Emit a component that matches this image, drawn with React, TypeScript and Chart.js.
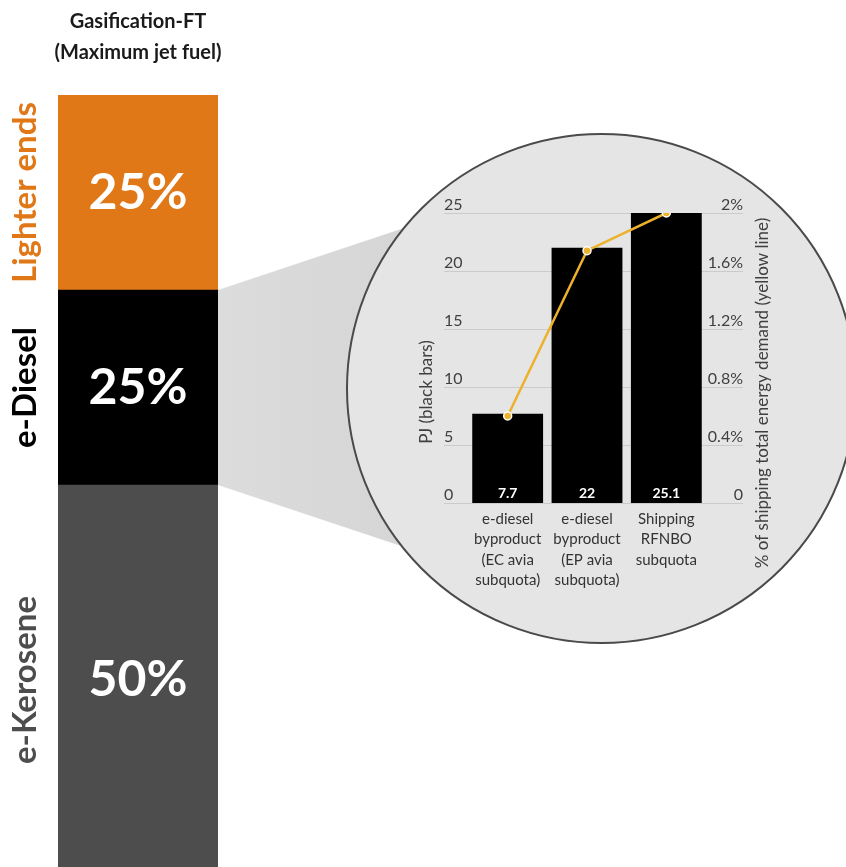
import React, { useEffect, useRef } from "react";
import { Chart, registerables } from "chart.js";

Chart.register(...registerables);

const FONT = "Lato, 'Open Sans', sans-serif";
const W = 846;
const H = 867;
const COLUMN_CANVAS_H = 900;

// Product split of the gasification-FT route (bottom to top)
const columnTitle = ["Gasification-FT", "(Maximum jet fuel)"];
const products = ["e-Kerosene", "e-Diesel", "Lighter ends"];
const productShares = [50, 25, 25];
const productColors = ["#4D4D4D", "#000000", "#E07818"];

// Inset: what the e-diesel byproduct can cover
const useCases = [
  ["e-diesel", "byproduct", "(EC avia", "subquota)"],
  ["e-diesel", "byproduct", "(EP avia", "subquota)"],
  ["Shipping", "RFNBO", "subquota"],
];
const energyPJ = [7.7, 22, 25.1];
const shippingSharePct = [0.6, 1.74, 2.0];
const pjTicks = [0, 5, 10, 15, 20, 25];
const shareTicks = [0, 0.4, 0.8, 1.2, 1.6, 2];
const shareTickLabels = ["0", "0.4%", "0.8%", "1.2%", "1.6%", "2%"];
const pjTitle = "PJ (black bars)";
const shareTitle = "% of shipping total energy demand (yellow line)";

// Magnifier lens geometry
const LENS = { cx: 601.5, cy: 388.5, r: 254.5 };
const CONE_SLOPE = 0.333;

const columnDecor = {
  id: "columnDecor",
  afterDraw(chart: any) {
    const ctx = chart.ctx as CanvasRenderingContext2D;
    const dieselBar = chart.getDatasetMeta(1).data[0] as any;
    const right = dieselBar.x + dieselBar.width / 2;
    const top = dieselBar.y;
    const bottom = dieselBar.base;
    const dx = LENS.cx - right;

    ctx.save();
    // cone from the e-Diesel segment to the lens
    const grad = ctx.createLinearGradient(right, 0, right + 200, 0);
    grad.addColorStop(0, "#DCDCDC");
    grad.addColorStop(1, "#D5D5D5");
    ctx.fillStyle = grad;
    ctx.beginPath();
    ctx.moveTo(right, top);
    ctx.lineTo(LENS.cx, top - dx * CONE_SLOPE);
    ctx.lineTo(LENS.cx, bottom + dx * CONE_SLOPE);
    ctx.lineTo(right, bottom);
    ctx.closePath();
    ctx.fill();

    // lens
    ctx.beginPath();
    ctx.arc(LENS.cx, LENS.cy, LENS.r, 0, Math.PI * 2);
    ctx.fillStyle = "#E5E5E5";
    ctx.fill();
    ctx.lineWidth = 2;
    ctx.strokeStyle = "#4A4A4A";
    ctx.stroke();

    // column title
    ctx.fillStyle = "#1A1A1A";
    ctx.font = `bold 20px ${FONT}`;
    ctx.textAlign = "center";
    ctx.textBaseline = "middle";
    ctx.fillText(columnTitle[0], dieselBar.x, 22);
    ctx.fillText(columnTitle[1], dieselBar.x, 53);

    // segment labels
    products.forEach((name, i) => {
      const el = chart.getDatasetMeta(i).data[0] as any;
      const mid = (el.y + el.base) / 2;
      ctx.fillStyle = "#FFFFFF";
      ctx.font = `bold 50px ${FONT}`;
      ctx.textAlign = "center";
      ctx.textBaseline = "middle";
      ctx.fillText(`${productShares[i]}%`, el.x, mid);

      ctx.save();
      ctx.translate(25, mid);
      ctx.rotate(-Math.PI / 2);
      ctx.fillStyle = productColors[i];
      ctx.font = `bold 33px ${FONT}`;
      ctx.fillText(name, 0, 0);
      ctx.restore();
    });
    ctx.restore();
  },
};

const lensAxes = {
  id: "lensAxes",
  beforeDatasetsDraw(chart: any) {
    const ctx = chart.ctx as CanvasRenderingContext2D;
    const { y, y1, x } = chart.scales;
    const area = chart.chartArea;
    const gridLeft = area.left - 24;
    const gridRight = area.right + 37;

    ctx.save();
    ctx.strokeStyle = "#CBCBCB";
    ctx.lineWidth = 1;
    pjTicks.forEach((v) => {
      const py = Math.round(y.getPixelForValue(v)) + 0.5;
      ctx.beginPath();
      ctx.moveTo(gridLeft, py);
      ctx.lineTo(gridRight, py);
      ctx.stroke();
    });

    ctx.fillStyle = "#404040";
    ctx.font = `16px ${FONT}`;
    ctx.textBaseline = "alphabetic";
    ctx.textAlign = "left";
    pjTicks.forEach((v) => {
      ctx.fillText(String(v), gridLeft, y.getPixelForValue(v) - 3);
    });
    ctx.textAlign = "right";
    shareTicks.forEach((v, i) => {
      ctx.fillText(shareTickLabels[i], gridRight, y1.getPixelForValue(v) - 3);
    });

    // axis titles
    ctx.font = `17px ${FONT}`;
    ctx.textAlign = "center";
    ctx.textBaseline = "middle";
    ctx.save();
    ctx.translate(area.left - 41, 392);
    ctx.rotate(-Math.PI / 2);
    ctx.fillText(pjTitle, 0, 0);
    ctx.restore();
    ctx.save();
    ctx.translate(area.right + 57, 393);
    ctx.rotate(-Math.PI / 2);
    ctx.fillText(shareTitle, 0, 0);
    ctx.restore();

    // category labels
    ctx.fillStyle = "#333333";
    ctx.font = `15px ${FONT}`;
    useCases.forEach((lines, i) => {
      const px = x.getPixelForValue(i);
      lines.forEach((line, j) => {
        ctx.fillText(line, px, area.bottom + 16 + j * 20.5);
      });
    });
    ctx.restore();
  },
  afterDatasetsDraw(chart: any) {
    const ctx = chart.ctx as CanvasRenderingContext2D;
    const meta = chart.getDatasetMeta(1);
    ctx.save();
    ctx.fillStyle = "#FFFFFF";
    ctx.font = `bold 14px ${FONT}`;
    ctx.textAlign = "center";
    ctx.textBaseline = "middle";
    meta.data.forEach((el: any, i: number) => {
      ctx.fillText(String(energyPJ[i]), el.x, el.base - 10);
    });
    ctx.restore();
  },
};

export default function App() {
  const columnRef = useRef<HTMLCanvasElement>(null);
  const lensRef = useRef<HTMLCanvasElement>(null);

  useEffect(() => {
    const column = new Chart(columnRef.current as HTMLCanvasElement, {
      type: "bar",
      data: {
        labels: [""],
        datasets: products.map((name, i) => ({
          label: name,
          data: [productShares[i]],
          backgroundColor: productColors[i],
          borderWidth: 0,
          barPercentage: 1,
          categoryPercentage: 1,
        })),
      },
      options: {
        responsive: false,
        animation: false,
        layout: { padding: { left: 58, right: W - 218, top: 95, bottom: COLUMN_CANVAS_H - 875 } },
        scales: {
          x: { stacked: true, display: false },
          y: { stacked: true, display: false, min: 0, max: 100 },
        },
        plugins: { legend: { display: false }, tooltip: { enabled: false } },
      },
      plugins: [columnDecor],
    });

    const lens = new Chart(lensRef.current as HTMLCanvasElement, {
      type: "bar",
      data: {
        labels: useCases.map((l) => l.join(" ")),
        datasets: [
          {
            type: "line",
            label: "Share of shipping energy demand",
            data: shippingSharePct,
            yAxisID: "y1",
            borderColor: "#EDB12C",
            borderWidth: 2.5,
            pointRadius: 4,
            pointBackgroundColor: "#EDB12C",
            pointBorderColor: "#FFFFFF",
            pointBorderWidth: 1.5,
            order: 0,
          } as any,
          {
            type: "bar",
            label: "PJ",
            data: energyPJ,
            yAxisID: "y",
            backgroundColor: "#000000",
            borderWidth: 0,
            barPercentage: 0.893,
            categoryPercentage: 1,
            order: 1,
          },
        ],
      },
      options: {
        responsive: false,
        animation: false,
        layout: { padding: { left: 468, right: W - 706, top: 213, bottom: H - 503 } },
        scales: {
          x: { display: false, offset: true },
          y: { display: false, min: 0, max: 25 },
          y1: { display: false, position: "right", min: 0, max: 2 },
        },
        plugins: { legend: { display: false }, tooltip: { enabled: false } },
      },
      plugins: [lensAxes],
    });

    return () => {
      column.destroy();
      lens.destroy();
    };
  }, []);

  return (
    <div
      style={{
        position: "absolute",
        left: 0,
        top: 0,
        width: W,
        height: H,
        overflow: "hidden",
        background: "#FFFFFF",
      }}
    >
      <canvas
        ref={columnRef}
        width={W}
        height={COLUMN_CANVAS_H}
        style={{ position: "absolute", left: 0, top: 0, width: W, height: COLUMN_CANVAS_H }}
      />
      <canvas
        ref={lensRef}
        width={W}
        height={H}
        style={{ position: "absolute", left: 0, top: 0, width: W, height: H }}
      />
    </div>
  );
}
